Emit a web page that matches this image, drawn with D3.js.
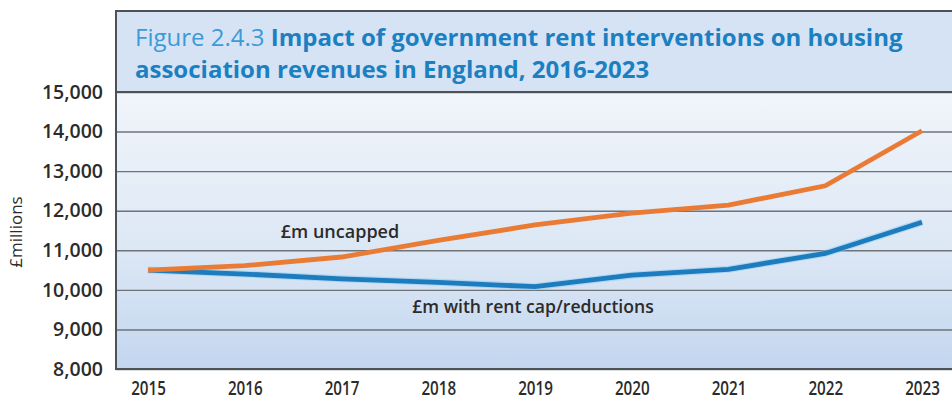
<!DOCTYPE html>
<html>
<head>
<meta charset="utf-8">
<script src="https://cdn.jsdelivr.net/npm/d3@7"></script>
<style>
  html, body { margin: 0; padding: 0; background: #ffffff; }
  svg { display: block; }
</style>
</head>
<body>
<svg id="chart" width="952" height="401"></svg>
<script>
// Housing association revenues, £ millions
const years = [2015, 2016, 2017, 2018, 2019, 2020, 2021, 2022, 2023];
const uncapped = [10500, 10610, 10830, 11250, 11640, 11940, 12140, 12630, 14020];
const withCap = [10500, 10400, 10280, 10190, 10080, 10370, 10520, 10920, 11710];
const yTicks = [8000, 9000, 10000, 11000, 12000, 13000, 14000, 15000];
const titleLead = "Figure 2.4.3 ";
const titleLine1 = "Impact of government rent interventions on housing";
const titleLine2 = "association revenues in England, 2016-2023";
const seriesLabels = { uncapped: "£m uncapped", withCap: "£m with rent cap/reductions" };
const yAxisTitle = "£millions";

const svg = d3.select("#chart");
const font = "'Open Sans', 'Noto Sans', sans-serif";

const frame = { left: 116, top: 11, right: 954, bottom: 369 };
const plotTop = 92;

const x = d3.scaleLinear().domain([2015, 2023]).range([148, 922]);
const y = d3.scaleLinear().domain([8000, 15000]).range([frame.bottom, plotTop]);

const defs = svg.append("defs");
const grad = defs.append("linearGradient").attr("id", "plotBg")
  .attr("x1", 0).attr("y1", 0).attr("x2", 0).attr("y2", 1);
grad.append("stop").attr("offset", "0%").attr("stop-color", "#f1f5fb");
grad.append("stop").attr("offset", "55%").attr("stop-color", "#dde8f5");
grad.append("stop").attr("offset", "100%").attr("stop-color", "#c3d6ef");

// title band
svg.append("rect")
  .attr("x", frame.left).attr("y", frame.top)
  .attr("width", frame.right - frame.left).attr("height", plotTop - frame.top)
  .attr("fill", "#d6e3f4");

// plot background
svg.append("rect")
  .attr("x", frame.left).attr("y", plotTop)
  .attr("width", frame.right - frame.left).attr("height", frame.bottom - plotTop)
  .attr("fill", "url(#plotBg)");

// y axis with gridlines
const yAxis = d3.axisLeft(y)
  .tickValues(yTicks)
  .tickFormat(d3.format(","))
  .tickSizeInner(-(frame.right - frame.left))
  .tickSizeOuter(0)
  .tickPadding(13);

const gy = svg.append("g")
  .attr("transform", `translate(${frame.left},0)`)
  .call(yAxis);
gy.select(".domain").remove();
gy.selectAll(".tick line").attr("stroke", "#6f7378").attr("stroke-width", 1.4);
gy.selectAll(".tick text")
  .attr("font-family", font).attr("font-size", 19.5).attr("font-weight", 600)
  .attr("fill", "#2b2b2b");

// x axis labels (condensed)
const xAxis = d3.axisBottom(x)
  .tickValues(years)
  .tickFormat(d3.format("d"))
  .tickSize(0)
  .tickPadding(13);
const gx = svg.append("g")
  .attr("transform", `translate(0,${frame.bottom})`)
  .call(xAxis);
gx.select(".domain").remove();
gx.selectAll(".tick text")
  .attr("font-family", font).attr("font-size", 19).attr("font-weight", 600)
  .attr("fill", "#2b2b2b")
  .attr("transform", "scale(0.8,1)");

// frame border and band separator
svg.append("line")
  .attr("x1", frame.left).attr("x2", frame.right)
  .attr("y1", plotTop).attr("y2", plotTop)
  .attr("stroke", "#4d5257").attr("stroke-width", 2);
svg.append("rect")
  .attr("x", frame.left).attr("y", frame.top)
  .attr("width", frame.right - frame.left).attr("height", frame.bottom - frame.top)
  .attr("fill", "none").attr("stroke", "#4d5257").attr("stroke-width", 2);

// title
const title = svg.append("text")
  .attr("font-family", font).attr("font-size", 24)
  .attr("x", 135).attr("y", 46);
title.append("tspan").attr("fill", "#3a9bd8").text(titleLead);
title.append("tspan").attr("fill", "#1b80c2").attr("font-weight", 700).text(titleLine1);
svg.append("text")
  .attr("font-family", font).attr("font-size", 24).attr("font-weight", 700)
  .attr("fill", "#1b80c2")
  .attr("x", 135).attr("y", 78)
  .text(titleLine2);

// series lines
const line = d3.line()
  .x((d, i) => x(years[i]))
  .y(d => y(d));

svg.append("path").datum(withCap)
  .attr("d", line)
  .attr("fill", "none").attr("stroke", "#8ccaf0").attr("stroke-width", 7)
  .attr("stroke-opacity", 0.5);
svg.append("path").datum(withCap)
  .attr("d", line)
  .attr("fill", "none").attr("stroke", "#1c7cbd").attr("stroke-width", 4.8);
svg.append("path").datum(uncapped)
  .attr("d", line)
  .attr("fill", "none").attr("stroke", "#ea7b34").attr("stroke-width", 4.8);

// series labels
svg.append("text")
  .attr("font-family", font).attr("font-size", 18).attr("font-weight", 600)
  .attr("fill", "#2b2b2b")
  .attr("x", 340).attr("y", 238).attr("text-anchor", "middle")
  .text(seriesLabels.uncapped);
svg.append("text")
  .attr("font-family", font).attr("font-size", 17.6).attr("font-weight", 600)
  .attr("fill", "#2b2b2b")
  .attr("x", 533).attr("y", 313).attr("text-anchor", "middle")
  .text(seriesLabels.withCap);

// y axis title
svg.append("text")
  .attr("font-family", font).attr("font-size", 17).attr("font-weight", 400)
  .attr("fill", "#2b2b2b")
  .attr("transform", "translate(22,232) rotate(-90)")
  .attr("text-anchor", "middle")
  .text(yAxisTitle);
</script>
</body>
</html>
